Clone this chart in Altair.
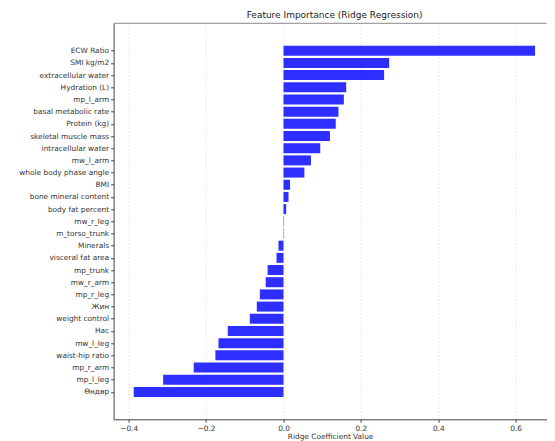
import json
import altair as alt
import pandas as pd

features = [
    "ECW Ratio", "SMI kg/m2", "extracellular water", "Hydration (L)", "mp_l_arm",
    "basal metabolic rate", "Protein (kg)", "skeletal muscle mass", "intracellular water",
    "mw_l_arm", "whole body phase angle\u00a0", "BMI", "bone mineral content",
    "body fat percent", "mw_r_leg", "m_torso_trunk", "Minerals", "visceral fat area\u00a0",
    "mp_trunk", "mw_r_arm", "mp_r_leg", "Жин", "weight control", "Нас", "mw_l_leg",
    "waist-hip ratio", "mp_r_arm", "mp_l_leg", "Өндөр",
]
coefficients = [
    0.650, 0.273, 0.260, 0.162, 0.156,
    0.142, 0.135, 0.120, 0.095,
    0.071, 0.054, 0.017, 0.013,
    0.007, 0.001, -0.001, -0.013, -0.018,
    -0.041, -0.046, -0.061, -0.069, -0.087, -0.144, -0.168,
    -0.176, -0.232, -0.311, -0.387,
]
x_ticks = [-0.4, -0.2, 0.0, 0.2, 0.4, 0.6]
chart_title = ["Feature Importance (Ridge Regression)"]

n = len(features)
df = pd.DataFrame({"feature": features, "coef": coefficients, "pos": list(range(n))})

PX_PER_UNIT = 387.0
W = 433
H = 396
x_domain = [-0.439, -0.439 + W / PX_PER_UNIT]
y_domain = [-1.84, n - 1 + 1.84]
FONT = "DejaVu Sans"
bar_px = 0.8 * H / (y_domain[1] - y_domain[0])
label_expr = json.dumps(features, ensure_ascii=False) + "[datum.value]"

bars = alt.Chart(df).mark_bar(color="blue", opacity=0.82, size=bar_px).encode(
    x=alt.X(
        "coef:Q",
        scale=alt.Scale(domain=x_domain, nice=False, zero=False),
        axis=alt.Axis(
            values=x_ticks, format=".1f", title="Ridge Coefficient Value",
            grid=True, gridDash=[1.5, 2], gridColor="#d8d8d8", gridWidth=0.8,
            domainColor="#444444", tickColor="#444444", tickSize=3,
            labelFont=FONT, labelFontSize=7.4, labelColor="#333333", labelPadding=2,
            titleFont=FONT, titleFontSize=7.4, titleFontWeight="normal",
            titleColor="#333333", titlePadding=1,
        ),
    ),
    x2=alt.datum(0),
    y=alt.Y(
        "pos:Q",
        scale=alt.Scale(domain=y_domain, nice=False, zero=False, reverse=True),
        axis=alt.Axis(
            title=None, values=list(range(n)), labelExpr=label_expr,
            domainColor="#444444", tickColor="#444444", tickSize=3,
            labelFont=FONT, labelFontSize=7.4, labelColor="#333333", labelPadding=2,
            grid=False, labelLimit=200, labelOverlap=False,
        ),
    ),
)

top_spine = alt.Chart(pd.DataFrame({"a": [0]})).mark_rule(
    color="#888888", strokeWidth=1
).encode(x=alt.value(0), x2=alt.value(W), y=alt.value(0))

title_mark = alt.Chart(pd.DataFrame({"t": chart_title})).mark_text(
    font=FONT, fontSize=9, color="#222222", baseline="middle", align="center"
).encode(text="t:N", x=alt.value(221), y=alt.value(-8))

chart = (
    alt.layer(bars, top_spine, title_mark)
    .properties(
        width=W,
        height=H,
        autosize=alt.AutoSizeParams(type="none"),
        padding={"left": 105.6, "top": 15.3, "right": 0, "bottom": 21.7},
    )
    .configure_view(stroke=None)
)

chart.save("out.html", embed_options={"renderer": "svg", "actions": False})
